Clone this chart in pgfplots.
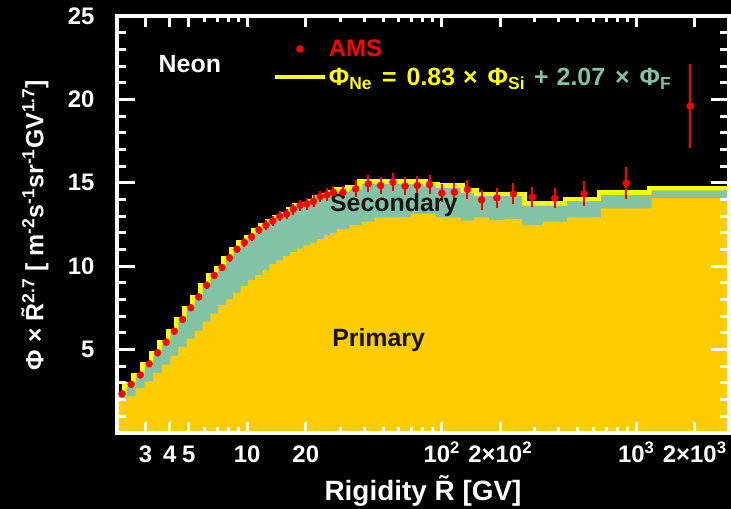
\documentclass[border=0pt]{standalone}
\usepackage{fontspec}
\setmainfont{Liberation Sans}
\usepackage{pgfplots}
\usepackage{pgfplotstable}
\pgfplotsset{compat=1.18}
\definecolor{ngold}{RGB}{255,204,0}
\definecolor{nteal}{RGB}{130,194,165}
\definecolor{nyel}{RGB}{255,255,0}
\definecolor{nred}{RGB}{255,0,0}
\definecolor{ntxt}{RGB}{20,20,20}

\pgfplotstableread{
x T P
2.14 2.20 2.00
2.40 2.77 2.19
2.67 3.33 2.69
2.97 4.00 3.09
3.29 4.66 3.60
3.64 5.30 4.10
4.02 5.95 4.64
4.43 6.66 5.16
4.88 7.36 5.66
5.37 8.01 6.14
5.90 8.71 6.67
6.47 9.30 7.15
7.09 9.77 7.67
7.76 10.35 8.01
8.48 10.87 8.41
9.26 11.28 8.81
10.1 11.62 9.16
11.0 12.00 9.46
12.0 12.30 9.76
13.0 12.55 10.12
14.1 12.80 10.35
15.3 12.98 10.60
16.6 13.25 10.85
18.0 13.50 11.06
19.5 13.60 11.25
21.1 13.75 11.40
22.8 14.00 11.63
24.7 14.13 11.85
26.7 14.27 12.00
28.8 14.45 12.23
33.5 14.60 12.47
38.9 14.94 12.67
45.1 14.94 12.93
52.2 14.94 12.93
60.3 14.94 12.93
69.7 14.94 13.13
80.5 14.80 13.13
93 14.70 12.93
108 14.70 12.93
125 14.40 12.73
147 14.20 12.93
175 14.20 12.77
211 14.20 12.83
259 13.63 12.47
330 13.63 12.67
441 13.90 12.93
660 14.28 13.47
1200 14.54 14.08
3000 14.54 14.08
}\hist

\pgfplotstableread{
c v e
2.27 2.35 0.10
2.53 2.92 0.10
2.82 3.48 0.10
3.13 4.15 0.10
3.46 4.81 0.12
3.83 5.45 0.12
4.22 6.10 0.12
4.65 6.81 0.15
5.12 7.51 0.20
5.63 8.16 0.20
6.18 8.86 0.20
6.77 9.45 0.20
7.42 9.92 0.22
8.11 10.50 0.22
8.86 11.02 0.22
9.67 11.43 0.25
10.54 11.77 0.25
11.49 12.17 0.25
12.49 12.46 0.28
13.54 12.71 0.28
14.69 12.98 0.30
15.94 13.13 0.30
17.29 13.42 0.33
18.73 13.66 0.33
20.28 13.74 0.35
21.93 13.89 0.35
23.73 14.17 0.35
25.68 14.28 0.38
27.73 14.42 0.38
31.06 14.43 0.40
36.10 14.64 0.50
41.89 14.94 0.50
48.52 14.84 0.50
56.10 15.04 0.55
64.83 14.80 0.55
74.90 14.84 0.55
86.53 14.90 0.55
100.22 14.38 0.55
116.19 14.44 0.55
135.56 14.60 0.55
160.39 13.98 0.60
192.22 14.10 0.60
233.78 14.34 0.64
292.35 14.14 0.62
381.47 14.08 0.62
539.51 14.34 0.75
889.94 14.98 0.94
1897.37 19.60 2.50
}\ams

\begin{document}
\begin{tikzpicture}
\fill[black] (0,0) rectangle (731bp,509bp);
\begin{axis}[
  at={(117bp,76bp)}, anchor=south west,
  scale only axis, width=612bp, height=417bp,
  xmode=log, xmin=2.14, xmax=3000, ymin=0, ymax=25,
  axis on top,
  axis line style={white, line width=3.5bp},
  tick style={white, line width=3bp},
  xtick style={/pgfplots/major tick length=11bp, /pgfplots/minor tick length=6bp},
  ytick style={/pgfplots/major tick length=18bp, /pgfplots/minor tick length=9bp},
  xtick={10,100,1000},
  xticklabels={10,10\textsuperscript{2},10\textsuperscript{3}},
  extra x ticks={3,4,5,20,200,2000},
  extra x tick labels={3,4,5,20,2×10\textsuperscript{2},2×10\textsuperscript{3}},
  extra x tick style={major tick length=6bp},
  minor xtick={3,4,5,6,7,8,9,20,30,40,50,60,70,80,90,200,300,400,500,600,700,800,900,2000,3000},
  ytick={5,10,15,20,25},
  yticklabels={5,10,15,20,25},
  minor ytick={1,2,3,4,6,7,8,9,11,12,13,14,16,17,18,19,21,22,23,24},
  tick label style={text=white, font=\bfseries\fontsize{24}{26}\selectfont},
  xticklabel style={anchor=base, yshift=-29bp},
  yticklabel style={xshift=-19bp},
  xlabel={Rigidity \~{R} [GV]},
  xlabel style={at={(axis description cs:0.5,0)}, anchor=base, yshift=-67bp, text=white, font=\bfseries\fontsize{28}{30}\selectfont},
  ylabel={Φ × \~{R}\textsuperscript{2.7} [ m\textsuperscript{-2}s\textsuperscript{-1}sr\textsuperscript{-1}GV\textsuperscript{1.7}]},
  ylabel style={at={(axis description cs:-0.134,0.499)}, anchor=center, text=white, font=\bfseries\fontsize{25}{27}\selectfont},
  legend style={at={(axis description cs:0.2545,0.948)}, anchor=north west, draw=none, fill=none,
    font=\bfseries\fontsize{24}{26}\selectfont, inner sep=0pt, row sep=6bp,
    /tikz/every even column/.append style={column sep=11bp}},
  legend image code/.code={\draw[mark repeat=2,mark phase=2,#1] plot coordinates {(0bp,0bp) (25bp,0bp) (50bp,0bp)};},
  legend cell align=left,
]
\addplot[const plot, draw=nyel, line width=9bp, forget plot] table[x=x,y=T]{\hist};
\addplot[const plot, fill=nteal, draw=none, forget plot] table[x=x,y=T]{\hist} \closedcycle;
\addplot[const plot, fill=ngold, draw=none, forget plot] table[x=x,y=P]{\hist} \closedcycle;
\addplot[only marks, mark=*, mark size=3.5bp, color=nred,
  error bars/.cd, y dir=both, y explicit, error mark=none,
  error bar style={line width=2bp, nred}]
  table[x=c, y=v, y error=e]{\ams};
\addlegendentry{\textcolor{nred}{AMS}}
\addlegendimage{nyel, line width=4bp}
\addlegendentry{\fontsize{25}{27}\selectfont\textcolor{nyel}{Φ\textsubscript{Ne}\hspace{10bp}=\hspace{10bp}0.83\hspace{8bp}×\hspace{10bp}Φ\textsubscript{Si}}\hspace{9bp}\textcolor{nteal}{+\hspace{8bp}2.07\hspace{10bp}×\hspace{10bp}Φ\textsubscript{F}}}
\node[anchor=base west, text=white, font=\bfseries\fontsize{25}{28}\selectfont, inner sep=0pt] at (axis cs:3.5,21.6) {Neon};
\node[anchor=base west, text=ntxt, font=\bfseries\fontsize{25}{28}\selectfont, inner sep=0pt] at (axis cs:26.6,13.25) {Secondary};
\node[anchor=base west, text=ntxt, font=\bfseries\fontsize{25}{28}\selectfont, inner sep=0pt] at (axis cs:27.3,5.16) {Primary};
\end{axis}
\pgfresetboundingbox
\useasboundingbox (0,0) rectangle (731bp,509bp);
\end{tikzpicture}
\end{document}
